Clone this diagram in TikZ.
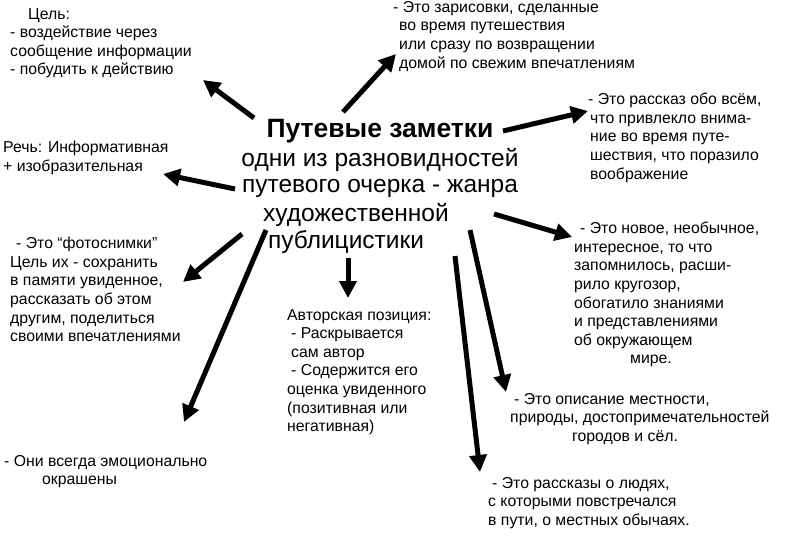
\documentclass[tikz,border=0pt]{standalone}
\usepackage{fontspec}
\setmainfont{Liberation Sans}
\usetikzlibrary{arrows.meta}
\begin{document}
\begin{tikzpicture}[
    x=1pt, y=-1pt,
    note/.style={anchor=north west, align=left, inner sep=0pt, font=\fontsize{15.8}{18.6}\selectfont}, % texts around the centre
    big/.style={font=\fontsize{24.5}{27}\selectfont, inner sep=0pt}, % central lines
    pointer/.style={line width=5pt, -{Triangle[length=17pt,width=17pt]}} % thick arrows
]
    \useasboundingbox (0,0) rectangle (800,538);

    % centre
    \node[big, font=\fontsize{26.5}{27}\selectfont\bfseries] (title) at (380,131) {Путевые заметки};
    \node[big] (l1) at (380,160) {одни из разновидностей};
    \node[big] (l2) at (380,188) {путевого очерка - жанра};
    \node[big] (l3) at (356,215) {художественной};
    \node[big] (l4) at (346,242) {публицистики};

    % texts
    \node[note] (goal) at (10,8) {\hspace*{18pt}Цель:\\- воздействие через\\сообщение информации\\- побудить к действию};
    \node[note] (sketch) at (393,1) {- Это зарисовки, сделанные\\\hspace*{6pt}во время путешествия\\\hspace*{6pt}или сразу по возвращении\\\hspace*{6pt}домой по свежим впечатлениям};
    \node[note] (story) at (588,93) {- Это рассказ обо всём,\\\hspace*{2pt}что привлекло внима-\\\hspace*{2pt}ние во время путе-\\\hspace*{2pt}шествия, что поразило\\\hspace*{2pt}воображение};
    \node[note] (speech) at (3,141) {Речь: Информативная\\+ изобразительная};
    \node[note] (new) at (574,222) {\hspace*{6pt}- Это новое, необычное,\\интересное, то что\\запомнилось, расши-\\рило кругозор,\\обогатило знаниями\\и представлениями\\об окружающем\\\hspace*{56pt}мире.};
    \node[note] (photo) at (10,237) {\hspace*{6pt}- Это “фотоснимки”\\Цель их - сохранить\\в памяти увиденное,\\рассказать об этом\\другим, поделиться\\своими впечатлениями};
    \node[note] (author) at (287,309) {Авторская позиция:\\\hspace*{4pt}- Раскрывается\\\hspace*{4pt}сам автор\\\hspace*{4pt}- Содержится его\\оценка увиденного\\(позитивная или\\негативная)};
    \node[note] (place) at (510,393) {\hspace*{4pt}- Это описание местности,\\природы, достопримечательностей\\\hspace*{62pt}городов и сёл.};
    \node[note] (emo) at (4,455) {- Они всегда эмоционально\\\hspace*{38pt}окрашены};
    \node[note] (people) at (488,477) {\hspace*{4pt}- Это рассказы о людях,\\с которыми повстречался\\в пути, о местных обычаях.};

    % arrow ends
    \coordinate (s1) at (254,118);  \coordinate (e1) at (203,80);
    \coordinate (s2) at (343,112);  \coordinate (e2) at (396,54);
    \coordinate (s3) at (503,131);  \coordinate (e3) at (588,111);
    \coordinate (s4) at (235,189);  \coordinate (e4) at (163,174);
    \coordinate (s5) at (494,214);  \coordinate (e5) at (572,237);
    \coordinate (s6) at (242,234);  \coordinate (e6) at (183,282);
    \coordinate (s7) at (348,258);  \coordinate (e7) at (348,298);
    \coordinate (s8) at (470,230);  \coordinate (e8) at (506,392);
    \coordinate (s9) at (455,256);  \coordinate (e9) at (480,472);
    \coordinate (s10) at (266,230); \coordinate (e10) at (184,422);

    \foreach \i in {1,...,10}
        \draw[pointer] (s\i) -- (e\i);
\end{tikzpicture}
\end{document}
